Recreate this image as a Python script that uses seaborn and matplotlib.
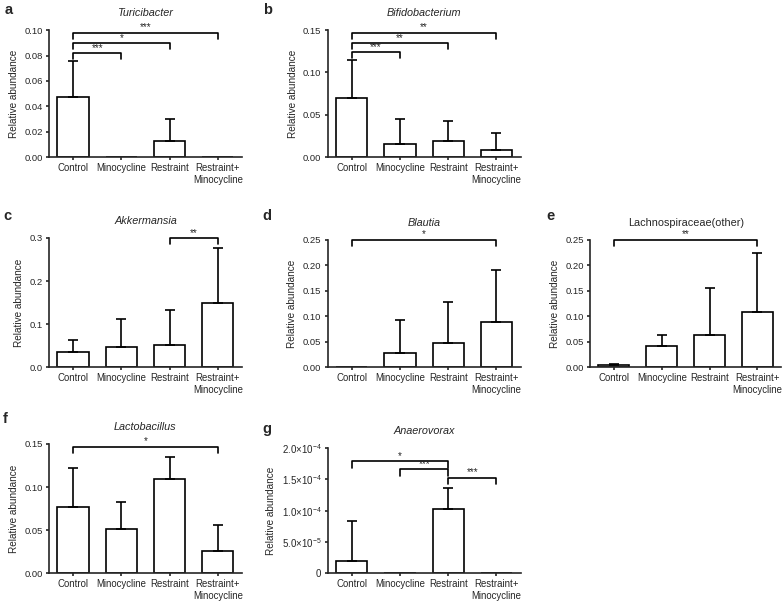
import numpy as np
import pandas as pd
import seaborn as sns
import matplotlib
matplotlib.use("Agg")
import matplotlib.pyplot as plt

# =========================
# DATA
# =========================

groups = ["Control", "Minocycline", "Restraint", "Restraint+\nMinocycline"]

turicibacter_mean = [0.047, 0.0, 0.013, 0.0]
turicibacter_sd = [0.029, 0.0, 0.017, 0.0]
turicibacter_sig = [(0, 1, "***"), (0, 2, "*"), (0, 3, "***")]

bifido_mean = [0.070, 0.015, 0.019, 0.008]
bifido_sd = [0.045, 0.030, 0.024, 0.020]
bifido_sig = [(0, 1, "***"), (0, 2, "**"), (0, 3, "**")]

akk_mean = [0.035, 0.047, 0.052, 0.149]
akk_sd = [0.029, 0.064, 0.080, 0.127]
akk_sig = [(2, 3, "**")]

blautia_mean = [0.0, 0.028, 0.047, 0.089]
blautia_sd = [0.0, 0.064, 0.080, 0.102]
blautia_sig = [(0, 3, "*")]

lachno_mean = [0.004, 0.041, 0.064, 0.109]
lachno_sd = [0.003, 0.023, 0.092, 0.115]
lachno_sig = [(0, 3, "**")]

lacto_mean = [0.077, 0.051, 0.109, 0.026]
lacto_sd = [0.045, 0.032, 0.026, 0.030]
lacto_sig = [(0, 3, "*")]

anaero_mean = [1.9e-5, 0.0, 1.03e-4, 0.0]
anaero_sd = [6.4e-5, 0.0, 3.4e-5, 0.0]
anaero_sig = [(2, 3, "***"), (1, 2, "***"), (0, 2, "*")]

anaero_ticks = [0, 5e-5, 1e-4, 1.5e-4, 2e-4]
anaero_ticklabels = ["0",
                     r"$\mathregular{5.0{\times}10^{-5}}$",
                     r"$\mathregular{1.0{\times}10^{-4}}$",
                     r"$\mathregular{1.5{\times}10^{-4}}$",
                     r"$\mathregular{2.0{\times}10^{-4}}$"]

# =========================
# STYLE
# =========================

sns.set_style("ticks")
plt.rcParams["font.family"] = ["Liberation Sans", "DejaVu Sans"]
plt.rcParams["mathtext.fontset"] = "custom"
plt.rcParams["mathtext.rm"] = "Liberation Sans"
plt.rcParams["axes.linewidth"] = 1.2
plt.rcParams["xtick.major.width"] = 1.2
plt.rcParams["ytick.major.width"] = 1.2
plt.rcParams["xtick.major.size"] = 2.5
plt.rcParams["ytick.major.size"] = 2.5

fig = plt.figure(figsize=(7.84, 6.04), dpi=100)

W = 0.246
panels = [
    # label, title, italic, mean, sd, sig, bracket levels, ymax, yticks, fmt, rect, label pos
    ("a", "Turicibacter", True, turicibacter_mean, turicibacter_sd, turicibacter_sig,
     [0.82, 0.90, 0.98], 0.10, np.arange(0, 0.101, 0.02), "%.2f",
     [0.0625, 0.740, W, 0.210], (0.006, 0.983)),
    ("b", "Bifidobacterium", True, bifido_mean, bifido_sd, bifido_sig,
     [0.827, 0.90, 0.98], 0.15, np.arange(0, 0.151, 0.05), "%.2f",
     [0.418, 0.740, W, 0.210], (0.335, 0.983)),
    ("c", "Akkermansia", True, akk_mean, akk_sd, akk_sig,
     [1.0], 0.3, np.arange(0, 0.31, 0.1), "%.1f",
     [0.0625, 0.392, W, 0.214], (0.004, 0.643)),
    ("d", "Blautia", True, blautia_mean, blautia_sd, blautia_sig,
     [1.0], 0.25, np.arange(0, 0.251, 0.05), "%.2f",
     [0.418, 0.392, W, 0.211], (0.335, 0.643)),
    ("e", "Lachnospiraceae(other)", False, lachno_mean, lachno_sd, lachno_sig,
     [1.0], 0.25, np.arange(0, 0.251, 0.05), "%.2f",
     [0.7526, 0.392, 0.244, 0.211], (0.697, 0.643)),
    ("f", "Lactobacillus", True, lacto_mean, lacto_sd, lacto_sig,
     [0.98], 0.15, np.arange(0, 0.151, 0.05), "%.2f",
     [0.0625, 0.051, W, 0.214], (0.004, 0.306)),
    ("g", "Anaerovorax", True, anaero_mean, anaero_sd, anaero_sig,
     [0.765, 0.83, 0.895], 2e-4, anaero_ticks, None,
     [0.418, 0.051, W, 0.207], (0.335, 0.290)),
]

for (lab, title, italic, mean, sd, sig, levels, ymax, yticks, fmt,
     rect, lpos) in panels:
    ax = fig.add_axes(rect)
    df = pd.DataFrame({"group": groups, "abundance": mean})
    sns.barplot(data=df, x="group", y="abundance", order=groups, ax=ax,
                color="white", edgecolor="black", linewidth=1.2,
                width=0.65, errorbar=None, saturation=1)

    # upper-only error bars
    idx = [i for i in range(len(groups)) if sd[i] > 0]
    ax.errorbar(idx, [mean[i] for i in idx],
                yerr=[[0] * len(idx), [sd[i] for i in idx]],
                fmt="none", ecolor="black", elinewidth=1.2,
                capsize=3.5, capthick=1.2)

    # significance brackets
    leg = 0.05 * ymax
    for (i, j, stars), lv in zip(sig, levels):
        y = lv * ymax
        ax.plot([i, i, j, j], [y - leg, y, y, y - leg], color="black",
                lw=1.2, clip_on=False)
        ax.text((i + j) / 2, y + 0.002 * ymax, stars, ha="center", va="bottom",
                fontsize=7)

    ax.set_xlim(-0.5, 3.5)
    ax.set_ylim(0, ymax)
    ax.set_yticks(yticks)
    if fmt is None:
        ax.set_yticklabels(anaero_ticklabels)
        ax.tick_params(axis="y", labelsize=7, pad=2)
    else:
        ax.set_yticklabels([fmt % t for t in yticks])
        ax.tick_params(axis="y", labelsize=6.8, pad=2)
    ax.tick_params(axis="x", labelsize=6.9, pad=2)
    ax.set_xlabel("")
    ax.set_ylabel("Relative abundance", fontsize=7.2, labelpad=4)
    ax.set_title(title, fontsize=7.8, style="italic" if italic else "normal",
                 pad=10)
    sns.despine(ax=ax)

    fig.text(lpos[0], lpos[1], lab, fontsize=10.5, fontweight="bold",
             ha="left", va="center")

fig.savefig("out.png", dpi=100)
